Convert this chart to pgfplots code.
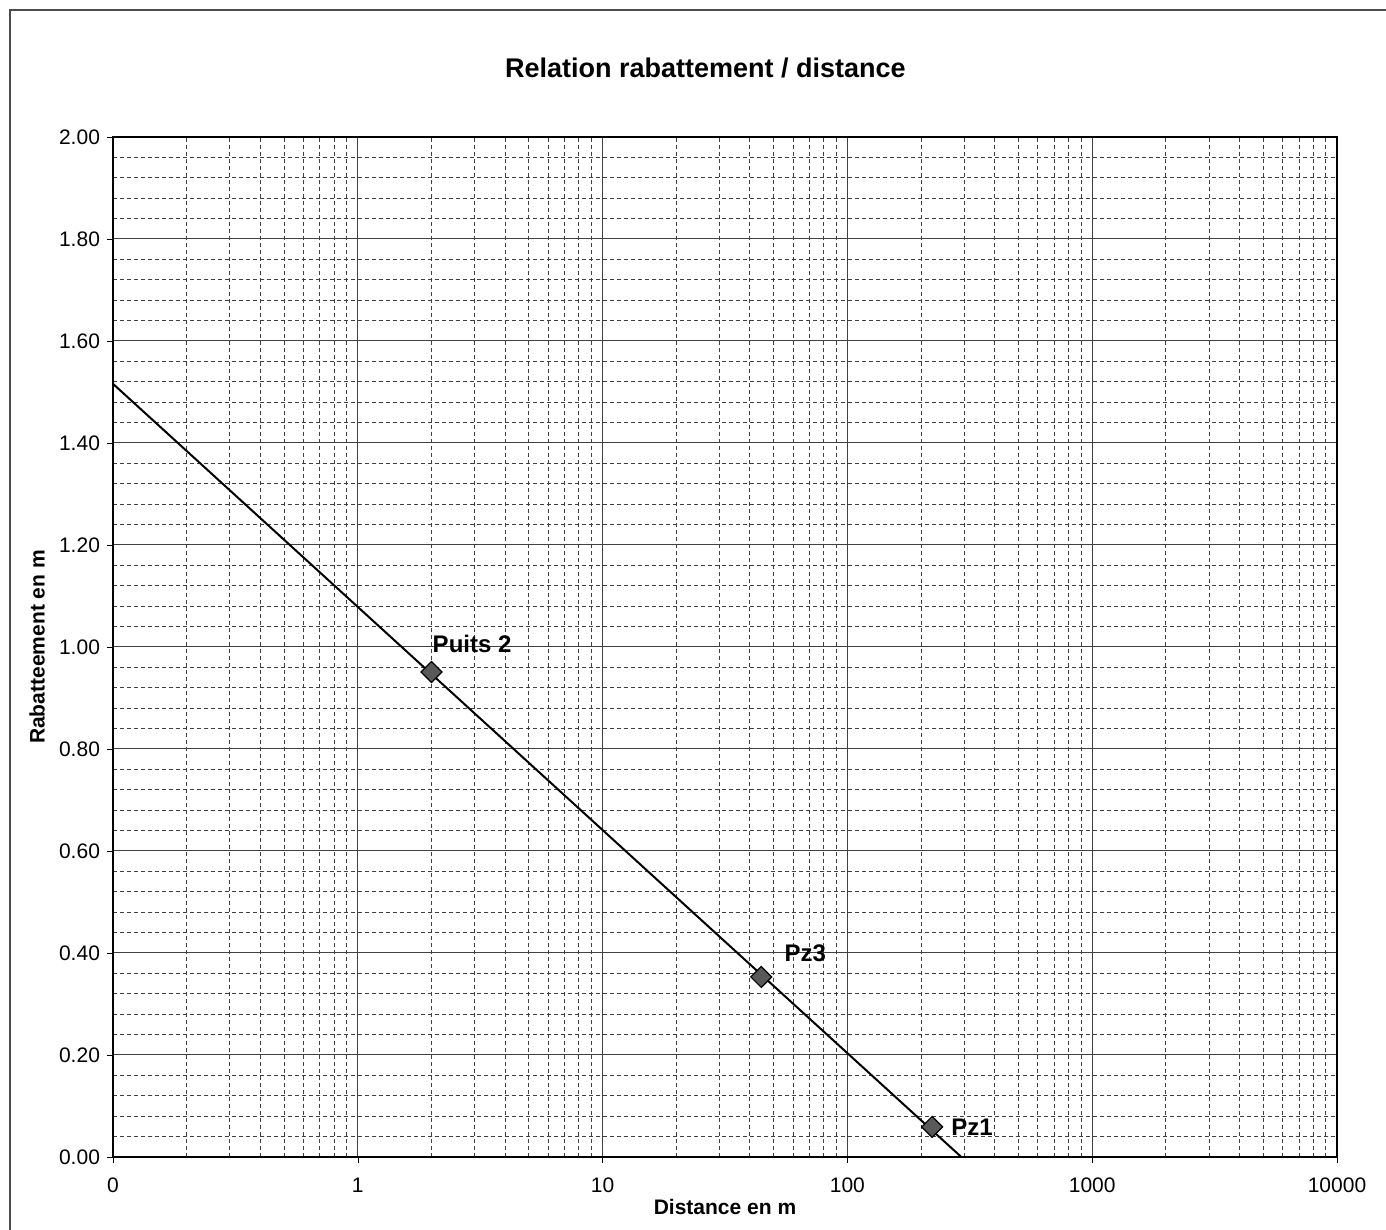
\documentclass[border=0pt]{standalone}
\usepackage{fontspec}
\setmainfont{Liberation Sans}
\usepackage{pgfplots}
\pgfplotsset{compat=1.18}

\begin{document}
\begin{tikzpicture}
    % page = 1386 x 1230 px at 0.5pt per px, plot area corner at (0,0)
    \useasboundingbox (-56.5pt,-36.5pt) rectangle (636.5pt,578.5pt);
    \draw[black!70, line width=0.6pt] (-51.5pt,-40pt) -- (-51.5pt,573.5pt) -- (640pt,573.5pt);
    \begin{axis}[
        scale only axis,
        width=612pt, height=510pt,
        xmode=log,
        xmin=0.1, xmax=10000,
        ymin=0, ymax=2,
        xtick={0.1,1,10,100,1000,10000},
        xticklabels={0,1,10,100,1000,10000},
        ytick={0,0.2,...,2.01},
        minor y tick num=4,
        yticklabel style={/pgf/number format/.cd, fixed, fixed zerofill, precision=2},
        /pgf/number format/assume math mode=true,
        ticklabel style={font=\fontsize{10.5}{12}\selectfont},
        xticklabel style={yshift=-4pt},
        xtick pos=bottom, ytick pos=left,
        tick align=outside,
        major tick length=3pt,
        minor tick length=0pt,
        tick style={black},
        grid=both,
        major grid style={black!75, line width=0.5pt},
        minor grid style={black!75, line width=0.5pt, dash pattern=on 2pt off 1.5pt},
        axis line style={black, line width=0.8pt},
        title={\textbf{Relation rabattement / distance}},
        title style={font=\fontsize{13.5}{16}\selectfont, at={(axis description cs:0.484,1.0676)}, anchor=center, yshift=-6pt},
        xlabel={\textbf{Distance en m}},
        xlabel style={font=\fontsize{10.5}{12}\selectfont, at={(axis description cs:0.5,-0.049)}, anchor=center},
        ylabel={\textbf{Rabatteement en m}},
        ylabel style={font=\fontsize{10.5}{12}\selectfont, at={(axis description cs:-0.062,0.5)}, anchor=center},
        clip=true,
    ]
    % regression line
    \addplot[black, line width=1pt, no marks] coordinates {
        (0.1,1.516) (292,0)
    };
    % measured points, each with its own label position
    \pgfplotsset{pts/.style={only marks, mark=square*, mark size=3.7pt,
        mark options={rotate=45, fill=black!65, draw=black, line width=0.6pt},
        nodes near coords, point meta=explicit symbolic}}
    \addplot[pts, every node near coord/.append style={font=\fontsize{12}{14}\selectfont\bfseries, anchor=west, xshift=-3pt, yshift=14pt}]
        coordinates {(2,0.951) [Puits 2]};
    \addplot[pts, every node near coord/.append style={font=\fontsize{12}{14}\selectfont\bfseries, anchor=west, xshift=8pt, yshift=12pt}]
        coordinates {(44.5,0.353) [Pz3]};
    \addplot[pts, every node near coord/.append style={font=\fontsize{12}{14}\selectfont\bfseries, anchor=west, xshift=6pt, yshift=0pt}]
        coordinates {(222,0.059) [Pz1]};
    \end{axis}
\end{tikzpicture}
\end{document}
